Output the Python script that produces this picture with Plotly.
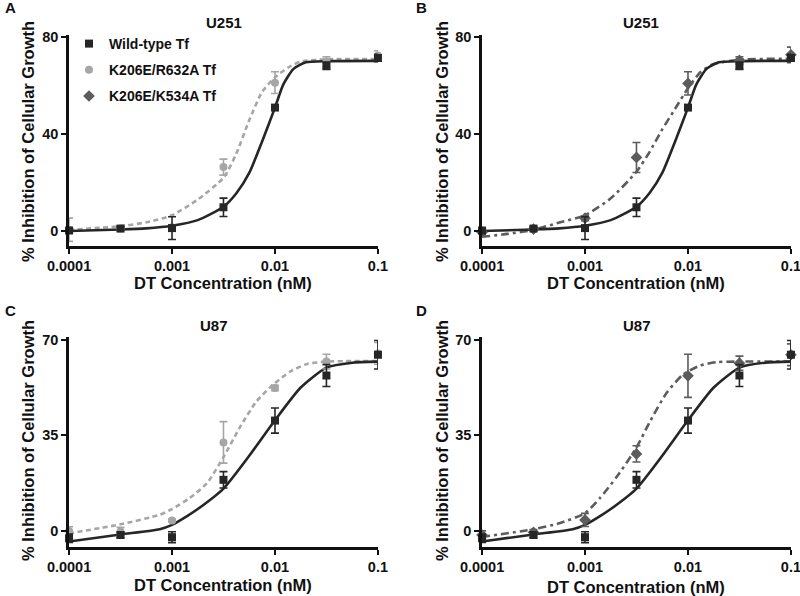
import plotly.graph_objects as go

W, H = 800, 596

# ---------------- data ----------------
CONC = [1e-4, 3.16e-4, 1e-3, 3.16e-3, 1e-2, 3.16e-2, 1e-1]
X_TICK_VALS = [1e-4, 1e-3, 1e-2, 1e-1]
X_TICK_TEXT = ["0.0001", "0.001", "0.01", "0.1"]
U251_Y_TICKS = [0, 40, 80]
U87_Y_TICKS = [0, 35, 70]

SERIES_NAMES = ["Wild-type Tf", "K206E/R632A Tf", "K206E/K534A Tf"]

# measured points (mean, error)
U251_WT = [0.2, 1.0, 1.2, 9.8, 51.0, 68.3, 71.5]
U251_WT_ERR = [1.0, 0.8, 4.7, 3.8, 1.0, 1.5, 1.5]
U251_R632A = [0.5, 1.0, 1.6, 26.4, 61.3, 70.0, 72.5]
U251_R632A_ERR = [4.8, 0.5, 1.0, 3.3, 4.5, 2.0, 2.0]
U251_K534A = [-0.5, 0.8, 5.3, 30.4, 61.0, 70.5, 72.8]
U251_K534A_ERR = [1.0, 0.5, 1.0, 6.2, 4.8, 1.5, 3.2]

U87_WT = [-2.7, -1.5, -2.3, 18.7, 40.4, 56.9, 64.5]
U87_WT_ERR = [1.5, 1.0, 2.0, 3.0, 4.6, 4.0, 5.2]
U87_R632A = [0.0, -0.2, 3.8, 32.4, 52.3, 62.0, 65.0]
U87_R632A_ERR = [1.5, 1.5, 0.5, 7.6, 1.0, 2.7, 4.0]
U87_K534A = [-1.5, -0.5, 4.0, 28.2, 56.8, 61.4, 64.5]
U87_K534A_ERR = [1.5, 1.0, 2.4, 3.0, 7.9, 2.6, 4.0]

# fitted curves (log10 concentration, % inhibition)
U251_WT_FIT_LOGX = [-4, -3.5, -3.25, -3, -2.75, -2.5, -2.375, -2.25, -2.125, -2, -1.92, -1.82, -1.7, -1.5, -1]
U251_WT_FIT_Y = [0, 0.6, 1.1, 2.2, 4.5, 10, 15.6, 24, 37, 51, 60.5, 67, 69.7, 70.2, 70.3]
U251_R632A_FIT_LOGX = [-4, -3.5, -3.25, -3, -2.75, -2.5, -2.375, -2.25, -2.125, -2, -1.875, -1.75, -1.5, -1]
U251_R632A_FIT_Y = [0.5, 2, 3.6, 6.5, 13, 22, 32, 45.8, 57.5, 63.5, 67.5, 70, 71, 71]
U251_K534A_FIT_LOGX = [-4, -3.75, -3.5, -3.25, -3, -2.75, -2.5, -2.375, -2.25, -2.125, -2, -1.875, -1.75, -1.5, -1]
U251_K534A_FIT_Y = [-2.4, -1.2, 0.5, 3.5, 6.5, 13.5, 24.5, 32.5, 42, 50.5, 59, 65.8, 69, 70.8, 71.2]

U87_WT_FIT_LOGX = [-4, -3.5, -3.12, -3, -2.85, -2.75, -2.5, -2.25, -2, -1.75, -1.5, -1.25, -1]
U87_WT_FIT_Y = [-3.9, -1.3, 0.6, 2.2, 5.5, 8, 15.5, 27.5, 40.5, 52.5, 59.8, 61.6, 62]
U87_R632A_FIT_LOGX = [-4, -3.5, -3.12, -3, -2.83, -2.66, -2.5, -2.34, -2.18, -2.02, -1.85, -1.69, -1.5, -1]
U87_R632A_FIT_Y = [-0.9, 2.4, 5.9, 8.0, 12, 17.5, 27, 38, 47.4, 53.5, 58.4, 61.1, 62, 62.2]
U87_K534A_FIT_LOGX = [-4, -3.5, -3.25, -3, -2.855, -2.69, -2.5, -2.37, -2.21, -2.05, -1.88, -1.72, -1.5, -1]
U87_K534A_FIT_Y = [-2.2, 0.6, 2.8, 6.5, 12, 19.9, 30.5, 40, 50.4, 57.2, 60.6, 61.8, 62, 62]

# ---------------- style ----------------
FONT = "Arial, 'Liberation Sans', Helvetica, sans-serif"
C_WT, C_R, C_K = "#262626", "#a6a6a6", "#5c5c5c"
STYLE = {
    "WT": dict(color=C_WT, symbol="square", size=8, dash="solid", name=SERIES_NAMES[0]),
    "R632A": dict(color=C_R, symbol="circle", size=8, dash="5px,3.5px", name=SERIES_NAMES[1]),
    "K534A": dict(color=C_K, symbol="diamond", size=9, dash="8px,4px,3px,4px", name=SERIES_NAMES[2]),
}


def px_x(p):
    return p / W


def px_y(p):
    return 1 - p / H


fig = go.Figure()

panels = [
    ("x", "y", [("WT", U251_WT, U251_WT_ERR, U251_WT_FIT_LOGX, U251_WT_FIT_Y),
                ("R632A", U251_R632A, U251_R632A_ERR, U251_R632A_FIT_LOGX, U251_R632A_FIT_Y)],
     (69, 378), (35, 246), [-6.2, 81], U251_Y_TICKS),
    ("x2", "y2", [("WT", U251_WT, U251_WT_ERR, U251_WT_FIT_LOGX, U251_WT_FIT_Y),
                  ("K534A", U251_K534A, U251_K534A_ERR, U251_K534A_FIT_LOGX, U251_K534A_FIT_Y)],
     (482, 791), (35, 246), [-6.2, 81], U251_Y_TICKS),
    ("x3", "y3", [("WT", U87_WT, U87_WT_ERR, U87_WT_FIT_LOGX, U87_WT_FIT_Y),
                  ("R632A", U87_R632A, U87_R632A_ERR, U87_R632A_FIT_LOGX, U87_R632A_FIT_Y)],
     (69, 378), (337, 547), [-5.9, 71], U87_Y_TICKS),
    ("x4", "y4", [("WT", U87_WT, U87_WT_ERR, U87_WT_FIT_LOGX, U87_WT_FIT_Y),
                  ("K534A", U87_K534A, U87_K534A_ERR, U87_K534A_FIT_LOGX, U87_K534A_FIT_Y)],
     (482, 791), (337, 547), [-5.9, 71], U87_Y_TICKS),
]

legend_shown = set()
legend_rank = {"WT": 1, "R632A": 2, "K534A": 3}

for xa, ya, series, xdom, ydom, yrange, yticks in panels:
    for key, vals, errs, fx, fy in reversed(series):
        st = STYLE[key]
        fig.add_trace(go.Scatter(
            x=[10 ** v for v in fx], y=fy, mode="lines",
            line=dict(color=st["color"], width=2.6, dash=st["dash"], shape="spline", smoothing=0.6),
            showlegend=False, hoverinfo="skip", xaxis=xa, yaxis=ya))
    for key, vals, errs, fx, fy in reversed(series):
        st = STYLE[key]
        show = key not in legend_shown
        legend_shown.add(key)
        fig.add_trace(go.Scatter(
            x=CONC, y=vals, mode="markers",
            marker=dict(symbol=st["symbol"], size=st["size"], color=st["color"]),
            error_y=dict(type="data", array=errs, visible=True, color=st["color"], thickness=1.6, width=4),
            name="<b>" + st["name"] + "</b>", showlegend=show, legendrank=legend_rank[key],
            legendgroup=key, cliponaxis=False, xaxis=xa, yaxis=ya))

    xkey = "xaxis" + xa[1:]
    ykey = "yaxis" + ya[1:]
    fig.layout[xkey] = dict(
        type="log", range=[-4.0005, -0.9995], domain=[px_x(xdom[0]), px_x(xdom[1])], anchor=ya,
        tickvals=X_TICK_VALS, ticktext=X_TICK_TEXT, showline=True, linewidth=2.5, linecolor="#111",
        ticks="outside", ticklen=5, tickwidth=2, tickcolor="#111", showgrid=False, zeroline=False,
        automargin=False, ticklabeloverflow="allow",
        tickfont=dict(family=FONT, size=14.5, color="#111", weight="bold"))
    fig.layout[ykey] = dict(
        range=yrange, domain=[px_y(ydom[1]), px_y(ydom[0])], anchor=xa,
        tickvals=yticks, showline=True, linewidth=2.5, linecolor="#111",
        ticks="outside", ticklen=5, tickwidth=2, tickcolor="#111", showgrid=False, zeroline=False,
        automargin=False, ticklabeloverflow="allow",
        tickfont=dict(family=FONT, size=14.5, color="#111", weight="bold"))

annotations = []


def add_text(text, x, y, size, angle=0, xanchor="center"):
    annotations.append(dict(text="<b>" + text + "</b>", x=px_x(x), y=px_y(y), xref="paper", yref="paper",
                            showarrow=False, textangle=angle, xanchor=xanchor, yanchor="middle",
                            font=dict(family=FONT, size=size, color="#111")))


PANEL_LETTERS = ["A", "B", "C", "D"]
PANEL_TITLES = ["U251", "U251", "U87", "U87"]
letter_pos = [(10, 8), (421, 8), (10, 310), (421, 310)]
title_pos = [(224, 22), (641, 22), (214, 325), (637, 325)]
xtitle_pos = [(223, 283), (636, 283), (223, 585), (636, 587)]
ytitle_pos = [(28, 142), (442, 142), (28, 441), (442, 441)]
for i in range(4):
    add_text(PANEL_LETTERS[i], *letter_pos[i], 15)
    add_text(PANEL_TITLES[i], *title_pos[i], 15)
    add_text("DT Concentration (nM)", *xtitle_pos[i], 16.5)
    add_text("% Inhibition of Cellular Growth", *ytitle_pos[i], 16.5, angle=-90)

fig.update_layout(
    width=W, height=H, margin=dict(l=0, r=0, t=0, b=0, autoexpand=False),
    paper_bgcolor="white", plot_bgcolor="white",
    annotations=annotations,
    showlegend=True,
    legend=dict(x=px_x(69), y=px_y(28), xanchor="left", yanchor="top", traceorder="grouped",
                tracegroupgap=5, bgcolor="rgba(0,0,0,0)",
                font=dict(family=FONT, size=14, color="#111")),
)

fig.write_html("out.html", config={"displayModeBar": False},
               post_script="document.body.style.margin='0';document.body.style.overflow='hidden';")
